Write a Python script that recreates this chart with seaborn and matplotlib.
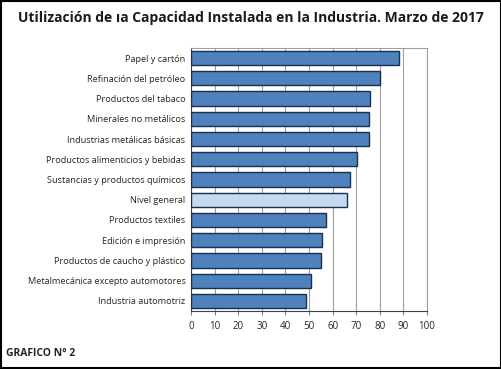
import numpy as np
import pandas as pd
import matplotlib
matplotlib.use("Agg")
import matplotlib.pyplot as plt
import seaborn as sns

# ==========================================================
# DATA
# ==========================================================

categorias = [
    "Papel y cartón",
    "Refinación del petróleo",
    "Productos del tabaco",
    "Minerales no metálicos",
    "Industrias metálicas básicas",
    "Productos alimenticios y bebidas",
    "Sustancias y productos químicos",
    "Nivel general",
    "Productos textiles",
    "Edición e impresión",
    "Productos de caucho y plástico",
    "Metalmecánica excepto automotores",
    "Industria automotriz",
]

utilizacion = [88.1, 80.2, 75.8, 75.5, 75.5, 70.2, 67.4, 66.0, 57.1, 55.4, 54.9, 50.7, 48.6]

x_ticks = [0, 10, 20, 30, 40, 50, 60, 70, 80, 90, 100]

df = pd.DataFrame({"categoria": categorias, "valor": utilizacion})

colores = ["#C6D9F1" if c == "Nivel general" else "#4F81BD" for c in categorias]

# ==========================================================
# PLOT
# ==========================================================

sns.set_style("white")
plt.rcParams["font.family"] = ["Open Sans", "DejaVu Sans"]

fig = plt.figure(figsize=(5.02, 3.69), dpi=100)
ax = fig.add_axes([191 / 502, 1 - 311 / 369, 236 / 502, 263 / 369])

sns.barplot(
    data=df, y="categoria", x="valor", hue="categoria",
    palette=colores, saturation=1, legend=False, orient="h",
    width=0.7, edgecolor="#17304F", linewidth=1.0,
    ax=ax, zorder=3,
)

ax.set_xlim(0, 100)
ax.set_xticks(x_ticks)
ax.set_xticklabels([str(t) for t in x_ticks], fontsize=7)
ax.tick_params(axis="y", labelsize=6.6, length=0, pad=4)
ax.tick_params(axis="x", length=3, color="#808080", pad=4, direction="out", bottom=True)
ax.set_xlabel("")
ax.set_ylabel("")
ax.grid(axis="x", color="#A0A0A0", linewidth=0.8, zorder=0)
ax.set_axisbelow(True)

for side in ["top", "right"]:
    ax.spines[side].set_color("#A0A0A0")
ax.spines["left"].set_color("#404040")
ax.spines["bottom"].set_color("#404040")

fig.text(0.5, 1 - 18 / 369, "Utilización de ıa Capacidad Instalada en la Industria. Marzo de 2017",
         ha="center", va="center", fontsize=10, fontweight="bold", color="#1a1a1a")
fig.text(6 / 502, 1 - 354 / 369, "GRAFICO N° 2", ha="left", va="center",
         fontsize=7.5, fontweight="bold")

# outer frame
fig.patches.append(plt.Rectangle((0.002, 0.003), 0.996, 0.994, transform=fig.transFigure,
                                 fill=False, edgecolor="black", linewidth=1.5))

plt.savefig("out.png", dpi=100)
plt.close()
